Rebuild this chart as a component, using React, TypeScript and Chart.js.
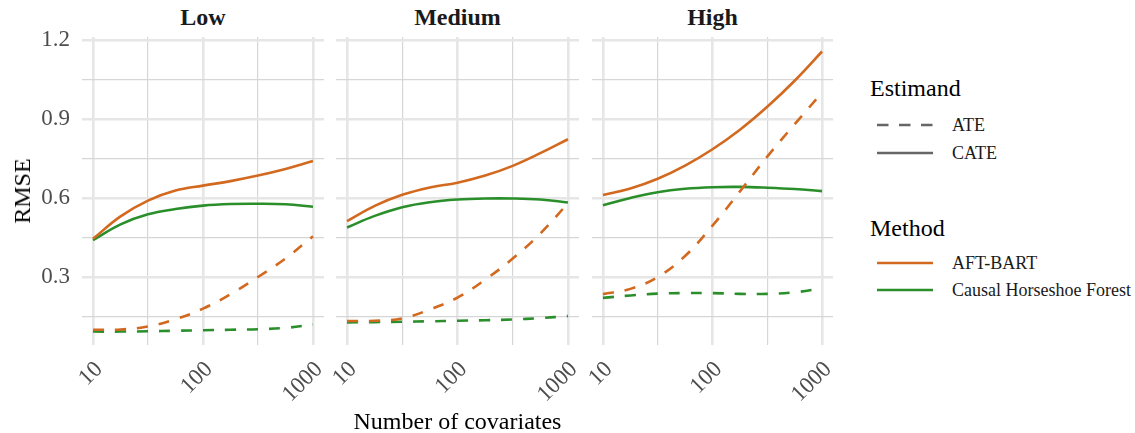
import React, { useEffect, useRef } from 'react';
import { Chart, registerables } from 'chart.js';

Chart.register(...registerables);

// ---- data ----
const panelNames = ['Low', 'Medium', 'High'];
const covariates = [10, 17.8, 31.6, 56.2, 100, 178, 316, 562, 1000];

const lowAftCate = [0.445, 0.53, 0.59, 0.628, 0.647, 0.664, 0.685, 0.71, 0.74];
const lowChfCate = [0.44, 0.5, 0.538, 0.558, 0.571, 0.577, 0.578, 0.576, 0.567];
const lowAftAte = [0.1, 0.101, 0.112, 0.14, 0.18, 0.235, 0.3, 0.37, 0.455];
const lowChfAte = [0.093, 0.093, 0.094, 0.096, 0.098, 0.1, 0.102, 0.107, 0.12];

const medAftCate = [0.512, 0.57, 0.612, 0.64, 0.658, 0.685, 0.722, 0.77, 0.823];
const medChfCate = [0.488, 0.532, 0.565, 0.584, 0.594, 0.598, 0.598, 0.594, 0.583];
const medAftAte = [0.133, 0.134, 0.143, 0.177, 0.222, 0.29, 0.37, 0.465, 0.58];
const medChfAte = [0.128, 0.129, 0.13, 0.132, 0.134, 0.136, 0.139, 0.144, 0.152];

const highAftCate = [0.611, 0.636, 0.673, 0.723, 0.785, 0.859, 0.946, 1.045, 1.156];
const highChfCate = [0.572, 0.6, 0.622, 0.635, 0.641, 0.642, 0.639, 0.634, 0.626];
const highAftAte = [0.235, 0.255, 0.3, 0.38, 0.495, 0.625, 0.757, 0.88, 1.0];
const highChfAte = [0.221, 0.23, 0.237, 0.239, 0.239, 0.236, 0.236, 0.242, 0.257];

const xTicks = [10, 31.62, 100, 316.2, 1000];
const yTicks = [0.15, 0.3, 0.45, 0.6, 0.75, 0.9, 1.05, 1.2];
const estimandLabels = ['ATE', 'CATE'];
const methodLabels = ['AFT-BART', 'Causal Horseshoe Forest'];

const panelSeries = [
  { aftCate: lowAftCate, chfCate: lowChfCate, aftAte: lowAftAte, chfAte: lowChfAte },
  { aftCate: medAftCate, chfCate: medChfCate, aftAte: medAftAte, chfAte: medChfAte },
  { aftCate: highAftCate, chfCate: highChfCate, aftAte: highAftAte, chfAte: highChfAte },
];

// ---- style ----
const ORANGE = '#D2691E';
const GREEN = '#2A8F2A';
const FONT = '"Liberation Serif", "Times New Roman", serif';
const PANEL_LEFT = [82, 336, 592];
const PANEL_RIGHT = [324, 579, 833];
const PANEL_TOP = 37;
const PANEL_BOTTOM = 345;
const PAD_TOP = 40;
const CANVAS_TOP = PANEL_TOP - PAD_TOP;
const PAD_RIGHT = 32;
const LEFT_SPACE = 28;
const XAXIS_H = 70;
const CANVAS_H = PANEL_BOTTOM - CANVAS_TOP + XAXIS_H;

const isMajorX = (v: number) => Math.abs(Math.log10(v) - Math.round(Math.log10(v))) < 0.01;
const isMajorY = (v: number) => Math.abs(v / 0.3 - Math.round(v / 0.3)) < 0.01;

function Panel({ idx }: { idx: number }) {
  const ref = useRef<HTMLCanvasElement>(null);
  const canvasLeft = idx === 0 ? 0 : PANEL_LEFT[idx] - LEFT_SPACE;
  const yWidth = PANEL_LEFT[idx] - canvasLeft;
  const width = PANEL_RIGHT[idx] + PAD_RIGHT - canvasLeft;

  useEffect(() => {
    const s = panelSeries[idx];
    const mk = (vals: number[], color: string, dashed: boolean) => ({
      data: covariates.map((x, i) => ({ x, y: vals[i] })),
      borderColor: color,
      backgroundColor: color,
      borderWidth: 2.6,
      borderDash: dashed ? [11, 11] : [],
      pointRadius: 0,
      tension: 0.4,
      fill: false,
    });
    const chart = new Chart(ref.current!, {
      type: 'line',
      data: {
        datasets: [
          mk(s.aftAte, ORANGE, true),
          mk(s.chfAte, GREEN, true),
          mk(s.aftCate, ORANGE, false),
          mk(s.chfCate, GREEN, false),
        ],
      },
      options: {
        responsive: false,
        animation: false,
        layout: { padding: { top: PAD_TOP, right: PAD_RIGHT, left: 0, bottom: 0 } },
        plugins: { legend: { display: false }, tooltip: { enabled: false } },
        scales: {
          x: {
            type: 'logarithmic',
            min: Math.pow(10, 0.9),
            max: Math.pow(10, 3.1),
            afterBuildTicks: (axis: any) => {
              axis.ticks = xTicks.map((v) => ({ value: v }));
            },
            afterFit: (axis: any) => {
              axis.height = XAXIS_H;
            },
            border: { display: false },
            grid: {
              drawTicks: false,
              color: (ctx: any) => (isMajorX(ctx.tick.value) ? '#e6e6e6' : '#d6d6d6'),
              lineWidth: (ctx: any) => (isMajorX(ctx.tick.value) ? 2.6 : 1.2),
            },
            ticks: {
              autoSkip: false,
              minRotation: 45,
              maxRotation: 45,
              padding: 11,
              labelOffset: 6,
              color: '#4d4d4d',
              font: { family: FONT, size: 23 },
              callback: (v: any) => (isMajorX(Number(v)) ? String(Math.round(Number(v))) : ''),
            },
          },
          y: {
            type: 'linear',
            min: 0.042,
            max: 1.211,
            afterBuildTicks: (axis: any) => {
              axis.ticks = yTicks.map((v) => ({ value: v }));
            },
            afterFit: (axis: any) => {
              axis.width = yWidth;
            },
            border: { display: false },
            grid: {
              drawTicks: false,
              color: (ctx: any) => (isMajorY(ctx.tick.value) ? '#e6e6e6' : '#d6d6d6'),
              lineWidth: (ctx: any) => (isMajorY(ctx.tick.value) ? 2.6 : 1.2),
            },
            ticks: {
              display: idx === 0,
              autoSkip: false,
              padding: 12,
              color: '#4d4d4d',
              font: { family: FONT, size: 23 },
              callback: (v: any) => (isMajorY(Number(v)) ? Number(v).toFixed(1) : ''),
            },
          },
        },
      },
    } as any);
    let alive = true;
    if ((document as any).fonts && (document as any).fonts.ready) {
      (document as any).fonts.ready.then(() => {
        if (alive) chart.update();
      });
    }
    return () => {
      alive = false;
      chart.destroy();
    };
  }, [idx]);

  return (
    <canvas
      ref={ref}
      width={width}
      height={CANVAS_H}
      style={{ position: 'absolute', left: canvasLeft, top: CANVAS_TOP, width, height: CANVAS_H }}
    />
  );
}

const txt = (extra: React.CSSProperties): React.CSSProperties => ({
  position: 'absolute',
  fontFamily: FONT,
  whiteSpace: 'nowrap',
  lineHeight: 1,
  ...extra,
});

function LegendKey({ top, color, dashed }: { top: number; color: string; dashed: boolean }) {
  return (
    <svg style={{ position: 'absolute', left: 877, top: top - 3, width: 56, height: 6 }} width={56} height={6}>
      <line x1={0} y1={3} x2={56} y2={3} stroke={color} strokeWidth={2.6} strokeDasharray={dashed ? '11.5 10.5' : undefined} />
    </svg>
  );
}

export default function App() {
  const centers = PANEL_LEFT.map((l, i) => (l + PANEL_RIGHT[i]) / 2);
  return (
    <div style={{ position: 'absolute', left: 0, top: 0, width: 1135, height: 433, background: '#fff', overflow: 'hidden' }}>
      {panelNames.map((n, i) => (
        <div key={n} style={txt({ left: centers[i], top: 17, transform: 'translate(-50%, -50%)', fontSize: 24, fontWeight: 'bold', color: '#1a1a1a' })}>
          {n}
        </div>
      ))}
      {[0, 1, 2].map((i) => (
        <Panel key={i} idx={i} />
      ))}
      <div style={txt({ left: 22, top: (PANEL_TOP + PANEL_BOTTOM) / 2, transform: 'translate(-50%, -50%) rotate(-90deg)', fontSize: 24, color: '#000' })}>
        RMSE
      </div>
      <div style={txt({ left: (PANEL_LEFT[0] + PANEL_RIGHT[2]) / 2, top: 421, transform: 'translate(-50%, -50%)', fontSize: 24, color: '#000' })}>
        Number of covariates
      </div>
      <div style={txt({ left: 870, top: 88, transform: 'translateY(-50%)', fontSize: 24, color: '#000' })}>Estimand</div>
      <LegendKey top={125} color="#666666" dashed={true} />
      <div style={txt({ left: 952, top: 125, transform: 'translateY(-50%)', fontSize: 18, color: '#1a1a1a' })}>{estimandLabels[0]}</div>
      <LegendKey top={153} color="#666666" dashed={false} />
      <div style={txt({ left: 952, top: 153, transform: 'translateY(-50%)', fontSize: 18, color: '#1a1a1a' })}>{estimandLabels[1]}</div>
      <div style={txt({ left: 870, top: 228, transform: 'translateY(-50%)', fontSize: 24, color: '#000' })}>Method</div>
      <LegendKey top={263} color={ORANGE} dashed={false} />
      <div style={txt({ left: 952, top: 263, transform: 'translateY(-50%)', fontSize: 18, color: '#1a1a1a' })}>{methodLabels[0]}</div>
      <LegendKey top={290} color={GREEN} dashed={false} />
      <div style={txt({ left: 952, top: 290, transform: 'translateY(-50%)', fontSize: 18, color: '#1a1a1a' })}>{methodLabels[1]}</div>
    </div>
  );
}
